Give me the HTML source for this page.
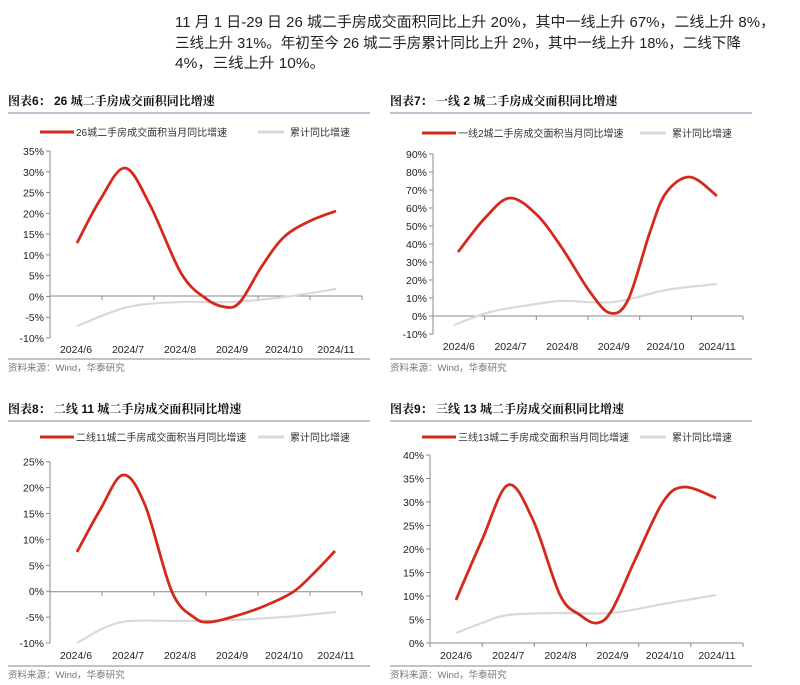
<!DOCTYPE html>
<html><head><meta charset="utf-8"><style>
body{margin:0;background:#fff;}
svg{display:block;font-family:"Liberation Sans","Noto Sans CJK SC",sans-serif;}
.t{font-size:14.5px;fill:#222;}
.h{font-size:12px;font-weight:bold;fill:#111;font-family:"Liberation Sans","Noto Serif CJK SC","Noto Sans CJK SC",sans-serif;}
.lg{font-size:10px;fill:#333;}
.ax{font-size:10.5px;fill:#222;}
.src{font-size:9.5px;fill:#777;}
</style></head><body>
<svg id="s" width="800" height="685" viewBox="0 0 800 685" xmlns="http://www.w3.org/2000/svg">
<text class="t" x="175" y="27" textLength="600" lengthAdjust="spacingAndGlyphs">11 月 1 日-29 日 26 城二手房成交面积同比上升 20%，其中一线上升 67%，二线上升 8%，</text>
<text class="t" x="175" y="48" textLength="566" lengthAdjust="spacingAndGlyphs">三线上升 31%。年初至今 26 城二手房累计同比上升 2%，其中一线上升 18%，二线下降</text>
<text class="t" x="175" y="68" textLength="150" lengthAdjust="spacingAndGlyphs">4%，三线上升 10%。</text>
<g id="g"></g>
</svg>
<script>
var g=document.getElementById('g'),h='';
function cr(p){var d='M'+p[0][0]+','+p[0][1];for(var i=0;i<p.length-1;i++){var p0=p[i-1]||p[i],p1=p[i],p2=p[i+1],p3=p[i+2]||p2;
var c1=[p1[0]+(p2[0]-p0[0])/6,p1[1]+(p2[1]-p0[1])/6],c2=[p2[0]-(p3[0]-p1[0])/6,p2[1]-(p3[1]-p1[1])/6];
d+=' C'+c1[0].toFixed(1)+','+c1[1].toFixed(1)+' '+c2[0].toFixed(1)+','+c2[1].toFixed(1)+' '+p2[0]+','+p2[1];}return d;}
function chart(c){var x0=c.ax,x1=c.ax2;
h+='<text class="h" x="'+c.tx+'" y="'+c.ty+'">'+c.title+'</text>';
h+='<line x1="'+(c.tx)+'" y1="'+(c.ty+8)+'" x2="'+(c.tx+362)+'" y2="'+(c.ty+8)+'" stroke="#8fa3b8" stroke-width="1.2"/>';
h+='<line x1="'+(c.tx+32)+'" y1="'+c.ly+'" x2="'+(c.tx+66)+'" y2="'+c.ly+'" stroke="#d42a1c" stroke-width="3"/>';
h+='<text class="lg" x="'+(c.tx+68)+'" y="'+(c.ly+4)+'">'+c.leg+'</text>';
h+='<line x1="'+(c.tx+250)+'" y1="'+c.ly+'" x2="'+(c.tx+276)+'" y2="'+c.ly+'" stroke="#d9d9d9" stroke-width="3"/>';
h+='<text class="lg" x="'+(c.tx+282)+'" y="'+(c.ly+4)+'">累计同比增速</text>';
h+='<line x1="'+x0+'" y1="'+c.yt+'" x2="'+x0+'" y2="'+c.yb+'" stroke="#888" stroke-width="1"/>';
for(var i=0;i<c.labels.length;i++){var y=c.yt+(c.yb-c.yt)*i/(c.labels.length-1);
h+='<line x1="'+(x0-4)+'" y1="'+y+'" x2="'+x0+'" y2="'+y+'" stroke="#888"/>';
h+='<text class="ax" x="'+(x0-6)+'" y="'+(y+4)+'" text-anchor="end">'+c.labels[i]+'</text>';}
var step=(x1-x0)/6;
h+='<line x1="'+x0+'" y1="'+c.y0+'" x2="'+x1+'" y2="'+c.y0+'" stroke="#888"/>';
var ms=['2024/6','2024/7','2024/8','2024/9','2024/10','2024/11'];
for(var i=0;i<=6;i++){var x=x0+step*i;h+='<line x1="'+x+'" y1="'+c.y0+'" x2="'+x+'" y2="'+(c.y0+4)+'" stroke="#888"/>';}
for(var i=0;i<6;i++){h+='<text class="ax" x="'+(x0+step*(i+.5))+'" y="'+c.xly+'" text-anchor="middle">'+ms[i]+'</text>';}
h+='<path d="'+cr(c.gray)+'" fill="none" stroke="#d9d9d9" stroke-width="2.2"/>';
h+='<path d="'+cr(c.red)+'" fill="none" stroke="#d42a1c" stroke-width="2.8"/>';
h+='<line x1="'+c.tx+'" y1="'+c.by+'" x2="'+(c.tx+362)+'" y2="'+c.by+'" stroke="#8fa3b8" stroke-width="1.2"/>';
h+='<text class="src" x="'+c.tx+'" y="'+(c.by+12)+'">资料来源：Wind，华泰研究</text>';}
chart({tx:8,ty:105,title:'图表6：  26 城二手房成交面积同比增速',ly:132,leg:'26城二手房成交面积当月同比增速',ax:50,ax2:362,yt:151,yb:338,y0:296,xly:353,by:359,
labels:['35%','30%','25%','20%','15%','10%','5%','0%','-5%','-10%'],
red:[[77,243],[100,200],[125,168],[150,205],[181,273],[205,298],[225,307],[240,302],[262,266],[284,237],[310,221],[336,211]],
gray:[[77,326],[128,307],[181,302],[232,302],[284,297],[336,289]]});
chart({tx:390,ty:105,title:'图表7：  一线 2 城二手房成交面积同比增速',ly:133,leg:'一线2城二手房成交面积当月同比增速',ax:433,ax2:743,yt:154,yb:334,y0:316,xly:350,by:359,
labels:['90%','80%','70%','60%','50%','40%','30%','20%','10%','0%','-10%'],
red:[[458,252],[485,218],[510,198],[537,215],[562,248],[590,292],[610,313],[628,300],[650,232],[666,193],[690,177],[717,196]],
gray:[[454,325],[490,312],[530,305],[562,301],[614,302],[666,290],[717,284]]});
chart({tx:8,ty:413,title:'图表8：  二线 11 城二手房成交面积同比增速',ly:437,leg:'二线11城二手房成交面积当月同比增速',ax:50,ax2:362,yt:461.7,yb:643,y0:591.7,xly:659,by:666,
labels:['25%','20%','15%','10%','5%','0%','-5%','-10%'],
red:[[77,552],[100,510],[123,475],[145,505],[172,592],[195,618],[210,622],[232,617],[262,607],[293,592],[315,572],[335,551]],
gray:[[77,643],[104,628],[130,621],[181,621],[232,620],[284,617],[336,612]]});
chart({tx:390,ty:413,title:'图表9：  三线 13 城二手房成交面积同比增速',ly:437,leg:'三线13城二手房成交面积当月同比增速',ax:430,ax2:743,yt:455,yb:643,y0:643,xly:659,by:666,
labels:['40%','35%','30%','25%','20%','15%','10%','5%','0%'],
red:[[456,600],[482,540],[508,485],[533,520],[560,595],[580,615],[597,623],[612,610],[635,560],[663,502],[684,487],[716,498]],
gray:[[456,633],[482,623],[508,615],[560,613],[612,613],[663,604],[716,595]]});
g.innerHTML=h;
</script>
</body></html>
